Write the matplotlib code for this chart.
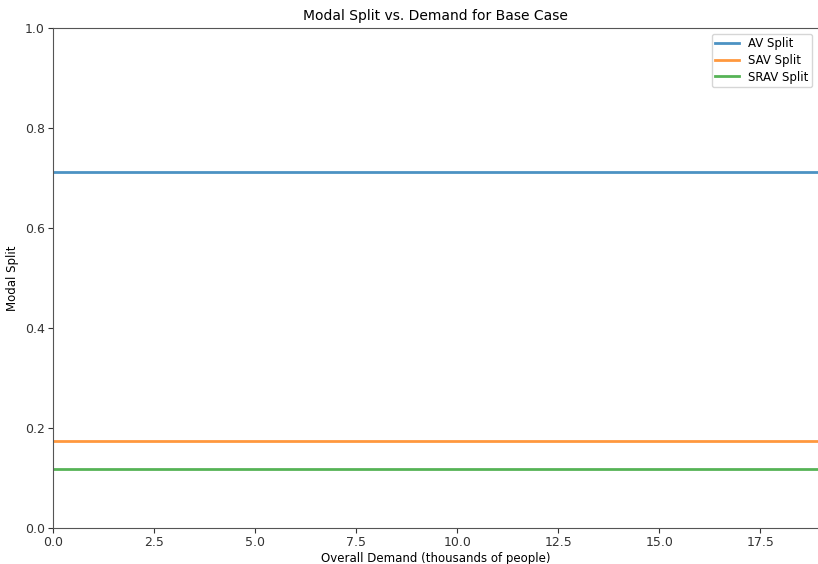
import matplotlib
matplotlib.use("Agg")
from matplotlib import pyplot as plt

# overall demand (thousands of people) and modal split per mode
demand = [0, 1, 2, 3, 4, 5, 6, 7, 8, 9, 10, 11, 12, 13, 14, 15, 16, 17, 18, 19]
av_split = [0.712] * len(demand)
sav_split = [0.174] * len(demand)
srav_split = [0.119] * len(demand)

fig = plt.figure(figsize=(8.18, 5.64), dpi=100)
ax = fig.add_axes([53 / 818, 36 / 564, 1 - 53 / 818, 500 / 564])

ax.plot(demand, av_split, label="AV Split", linewidth=2, alpha=0.8)
ax.plot(demand, sav_split, label="SAV Split", linewidth=2, alpha=0.8)
ax.plot(demand, srav_split, label="SRAV Split", linewidth=2, alpha=0.8)

ax.set_xlim(0, 18.93)
ax.set_ylim(0, 1)
ax.spines["right"].set_visible(False)
for s in ["left", "bottom", "top"]:
    ax.spines[s].set_color("#555555")
ax.tick_params(colors="#333333", labelsize=9, pad=2.5)

ax.set_title("Modal Split vs. Demand for Base Case", fontsize=10)
ax.set_xlabel("Overall Demand (thousands of people)", fontsize=8.5, labelpad=2)
ax.set_ylabel("Modal Split", fontsize=8.5)
ax.legend(loc="upper right", fontsize=8.5, handlelength=2, borderpad=0.3,
          labelspacing=0.3)

fig.savefig("out.png", dpi=100)
